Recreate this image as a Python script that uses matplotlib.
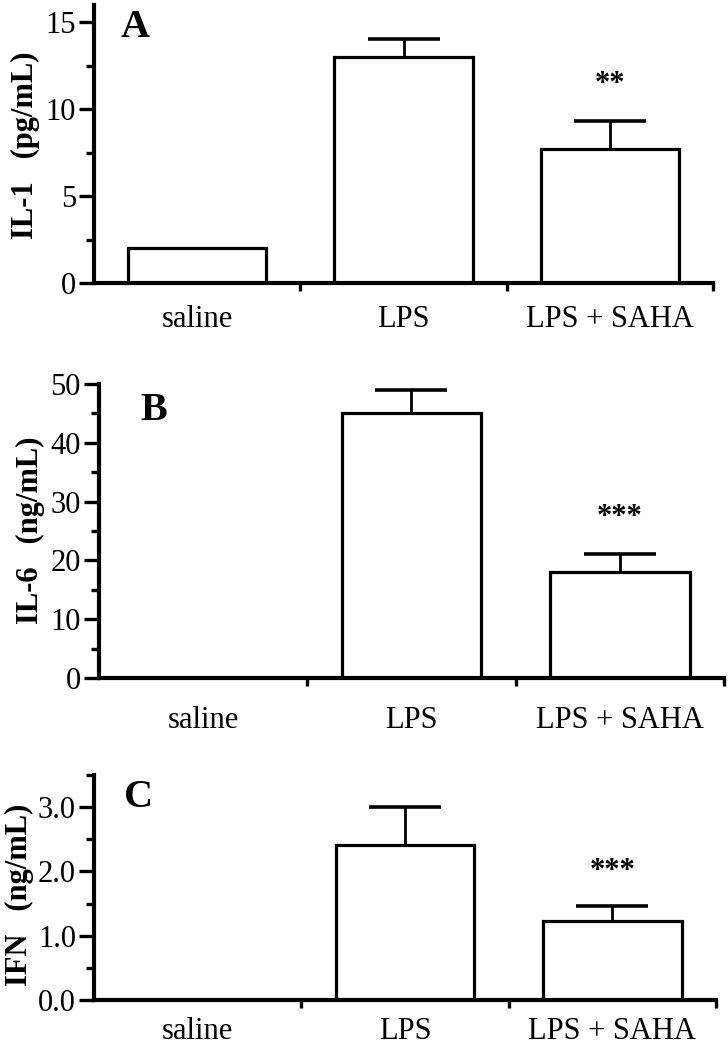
import numpy as np
import matplotlib
matplotlib.use("Agg")
import matplotlib.pyplot as plt
from matplotlib.ticker import MultipleLocator, FixedLocator, NullFormatter

plt.rcParams['font.family'] = ['Liberation Serif', 'DejaVu Serif']

groups = ["saline", "LPS", "LPS + SAHA"]

# panel A: IL-1 (pg/mL)
il1_mean = [2.0, 13.0, 7.7]
il1_err = [0.0, 1.05, 1.6]
# panel B: IL-6 (ng/mL)
il6_mean = [np.nan, 45.0, 18.0]
il6_err = [np.nan, 3.9, 3.1]
# panel C: IFN (ng/mL)
ifn_mean = [np.nan, 2.41, 1.23]
ifn_err = [np.nan, 0.6, 0.24]

W, H = 728, 1049


def add_panel(fig, px_left, px_right, px_top, px_bottom):
    return fig.add_axes([px_left / W, 1 - px_bottom / H,
                         (px_right - px_left) / W, (px_bottom - px_top) / H])


def draw(fig, ax, means, errs, ylim, major, minor, fmt, ylabel, label_px,
         letter, letter_xy, stars, star_y, xpad):
    x = np.arange(len(groups))
    means = np.array(means, dtype=float)
    errs = np.array(errs, dtype=float)
    ok = np.isfinite(means)
    ax.bar(x[ok], means[ok], width=0.67, color='white', edgecolor='black',
           linewidth=2.3, zorder=2)
    has_err = ok & (errs > 0)
    eb = ax.errorbar(x[has_err], means[has_err],
                     yerr=[np.zeros(has_err.sum()), errs[has_err]],
                     fmt='none', ecolor='black', elinewidth=2.0, capsize=26,
                     capthick=2.6, zorder=3)
    # only the upper cap, the lower one would sit on the bar top
    eb[1][0].set_visible(False)
    ax.set_xlim(-0.5, 2.5)
    ax.spines['top'].set_visible(False)
    ax.spines['right'].set_visible(False)
    for s in ('left', 'bottom'):
        ax.spines[s].set_linewidth(3.0)
    ax.set_xticks(x)
    ax.set_xticklabels(groups, fontsize=22)
    ax.tick_params(axis='x', which='major', length=0, pad=xpad)
    ax.xaxis.set_minor_locator(FixedLocator([0.5, 1.5, 2.5]))
    ax.tick_params(axis='x', which='minor', length=6, width=2.4,
                   direction='out')
    ax.yaxis.set_major_locator(MultipleLocator(major))
    ax.yaxis.set_minor_locator(MultipleLocator(minor))
    ax.yaxis.set_minor_formatter(NullFormatter())
    ax.set_yticks(ax.get_yticks())
    ax.set_yticklabels([fmt.format(v) for v in ax.get_yticks()])
    ax.set_ylim(*ylim)
    ax.tick_params(axis='y', which='major', length=11, width=2.4,
                   labelsize=22, pad=2)
    ax.tick_params(axis='y', which='minor', length=6, width=2.4)
    fig.text(label_px[0] / W, 1 - label_px[1] / H, ylabel, rotation=90,
             fontsize=22, fontweight='bold', ha='center', va='center')
    ax.text(letter_xy[0], letter_xy[1], letter, transform=ax.transAxes,
            fontsize=29, fontweight='bold', ha='center', va='center')
    ax.text(2, star_y, stars, fontsize=22, fontweight='bold', ha='center',
            va='center')


fig = plt.figure(figsize=(W / 100, H / 100), dpi=100)

axA = add_panel(fig, 94, 713, 5, 283)
draw(fig, axA, il1_mean, il1_err, (0, 16), 5, 2.5, "{:.0f}",
     "IL-1   (pg/mL)", (25, 145), "A", (0.066, 0.92), "**", 11.4, 16)

axB = add_panel(fig, 99, 724, 384, 678)
draw(fig, axB, il6_mean, il6_err, (0, 50), 10, 5, "{:.0f}",
     "IL-6   (ng/mL)", (30, 530), "B", (0.088, 0.91), "***", 27.3, 20)

axC = add_panel(fig, 94, 716, 775, 1000)
draw(fig, axC, ifn_mean, ifn_err, (0, 3.5), 1, 0.5, "{:.1f}",
     "IFN   (ng/mL)", (19, 895), "C", (0.072, 0.90), "***", 2.0, 12)

fig.savefig("out.png", dpi=100)
